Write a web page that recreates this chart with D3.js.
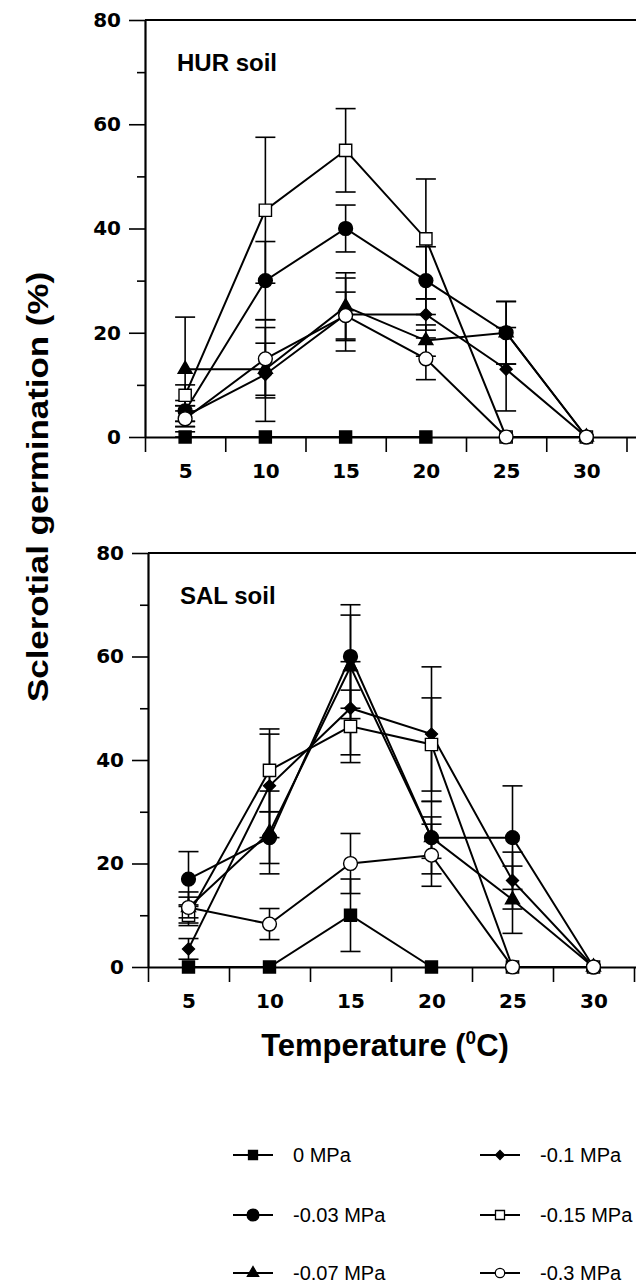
<!DOCTYPE html>
<html>
<head>
<meta charset="utf-8">
<script src="https://cdn.jsdelivr.net/npm/d3@7"></script>
<style>
  body { margin: 0; background: #fff; }
  svg { display: block; font-family: "Liberation Sans", Arial, sans-serif; }
</style>
</head>
<body>
<svg id="chart"></svg>
<script>
// temperatures (x) and water potential treatments (series)
const temps = [5, 10, 15, 20, 25, 30];
const seriesNames = ["0 MPa", "-0.03 MPa", "-0.07 MPa", "-0.1 MPa", "-0.15 MPa", "-0.3 MPa"];
const yTicks = [0, 20, 40, 60, 80];

// HUR soil: germination (%) and error bars
const hur0    = [0, 0, 0, 0, null, null];
const hur003  = [5, 30, 40, 30, 20, 0];
const hur007  = [13, 13, 25, 18.5, 20, 0];
const hur01   = [4, 12, 23.5, 23.5, 13, 0];
const hur015  = [8, 43.5, 55, 38, 0, 0];
const hur03   = [3.5, 15, 23.3, 15, 0, 0];
const hur0Err   = [1, 0, 0, 0, 0, 0];
const hur003Err = [2, 7.5, 4.5, 6.5, 6, 0];
const hur007Err = [10, 5, 6.5, 3, 6, 0];
const hur01Err  = [2, 9, 7, 3, 8, 0];
const hur015Err = [2, 14, 8, 11.5, 0, 0];
const hur03Err  = [1.5, 7.5, 4.5, 4, 0, 0];

// SAL soil
const sal0    = [0, 0, 10, 0, null, null];
const sal003  = [17, 25, 60, 25, 25, 0];
const sal007  = [11.5, 26, 58, 25, 13, 0];
const sal01   = [3.5, 35, 50, 45, 16.7, 0];
const sal015  = [10, 38, 46.5, 43, 0, 0];
const sal03   = [11.5, 8.3, 20, 21.6, 0, 0];
const sal0Err   = [0, 0, 7, 0, 0, 0];
const sal003Err = [5.3, 5, 10, 7, 10, 0];
const sal007Err = [3, 8, 10, 4, 6.5, 0];
const sal01Err  = [2, 10, 9, 13, 5.5, 0];
const sal015Err = [2, 8, 7, 9, 0, 0];
const sal03Err  = [2, 3, 5.8, 6, 0, 0];

const W = 636, H = 1284;
const svg = d3.select("#chart").attr("width", W).attr("height", H);

// marker styles per series
const markers = [
  { type: d3.symbolSquare, size: 144, fill: "#000", rot: 0 },
  { type: d3.symbolCircle, size: 150, fill: "#000", rot: 0 },
  { type: d3.symbolTriangle, size: 85, fill: "#000", rot: 0 },
  { type: d3.symbolSquare, size: 72, fill: "#000", rot: 45 },
  { type: d3.symbolSquare, size: 150, fill: "#fff", rot: 0 },
  { type: d3.symbolCircle, size: 150, fill: "#fff", rot: 0 }
];

function drawPanel(cfg) {
  const x = d3.scaleLinear().domain([2.5, 35]).range([cfg.left, cfg.left + 32.5 * cfg.kx]);
  const y = d3.scaleLinear().domain([0, 80]).range([cfg.bottom, cfg.top]);
  const g = svg.append("g");

  // top frame line
  g.append("line")
    .attr("x1", x(2.5)).attr("x2", x(35))
    .attr("y1", y(80)).attr("y2", y(80))
    .attr("stroke", "#000").attr("stroke-width", 2.2);

  // y axis major + minor
  g.append("g")
    .attr("transform", `translate(${x(2.5)},0)`)
    .call(d3.axisLeft(y).tickValues(yTicks).tickSize(16).tickSizeOuter(0).tickPadding(8));
  g.append("g")
    .attr("transform", `translate(${x(2.5)},0)`)
    .call(d3.axisLeft(y).tickValues([10, 30, 50, 70]).tickSize(8).tickSizeOuter(0).tickFormat(""))
    .select(".domain").remove();

  // x axis ticks between labels
  g.append("g")
    .attr("transform", `translate(0,${y(0)})`)
    .call(d3.axisBottom(x).tickValues([2.5, 7.5, 12.5, 17.5, 22.5, 27.5, 32.5])
      .tickSize(15).tickSizeOuter(0).tickFormat(""));
  const xLab = g.append("g")
    .attr("transform", `translate(0,${y(0)})`)
    .call(d3.axisBottom(x).tickValues(temps).tickSize(0).tickPadding(27));
  xLab.select(".domain").remove();

  g.selectAll(".domain").attr("stroke-width", 2.2);
  g.selectAll(".tick line").attr("stroke-width", 1.6);
  g.selectAll(".tick text")
    .attr("fill", "#000")
    .style("font-family", "'DejaVu Sans', sans-serif")
    .style("font-size", "20px")
    .style("font-weight", 700);

  g.append("text")
    .attr("x", cfg.left + 32).attr("y", y(80) + 51)
    .style("font-size", "24px").style("font-weight", 700)
    .text(cfg.label);

  cfg.series.forEach((vals, i) => {
    const pts = temps.map((t, j) => ({ t, v: vals[j], e: cfg.errs[i][j] }))
      .filter(d => d.v !== null);
    const sg = g.append("g");

    sg.append("path")
      .datum(pts)
      .attr("fill", "none").attr("stroke", "#000").attr("stroke-width", 2)
      .attr("d", d3.line().x(d => x(d.t)).y(d => y(d.v)));

    const eb = sg.selectAll(".eb").data(pts.filter(d => d.e > 0)).join("g")
      .attr("stroke", "#000").attr("stroke-width", 1.6);
    eb.append("line")
      .attr("x1", d => x(d.t)).attr("x2", d => x(d.t))
      .attr("y1", d => y(d.v + d.e)).attr("y2", d => y(Math.max(0, d.v - d.e)));
    eb.append("line")
      .attr("x1", d => x(d.t) - 10).attr("x2", d => x(d.t) + 10)
      .attr("y1", d => y(d.v + d.e)).attr("y2", d => y(d.v + d.e));
    eb.append("line")
      .attr("x1", d => x(d.t) - 10).attr("x2", d => x(d.t) + 10)
      .attr("y1", d => y(Math.max(0, d.v - d.e))).attr("y2", d => y(Math.max(0, d.v - d.e)));

    const m = markers[i];
    sg.selectAll(".mk").data(pts).join("path")
      .attr("d", d3.symbol().type(m.type).size(m.size))
      .attr("transform", d => `translate(${x(d.t)},${y(d.v)}) rotate(${m.rot})`)
      .attr("fill", m.fill).attr("stroke", "#000").attr("stroke-width", 1.4);
  });
}

drawPanel({
  label: "HUR soil", left: 145, kx: 16.05, top: 20, bottom: 437,
  series: [hur0, hur003, hur007, hur01, hur015, hur03],
  errs: [hur0Err, hur003Err, hur007Err, hur01Err, hur015Err, hur03Err]
});
drawPanel({
  label: "SAL soil", left: 148, kx: 16.2, top: 553, bottom: 967,
  series: [sal0, sal003, sal007, sal01, sal015, sal03],
  errs: [sal0Err, sal003Err, sal007Err, sal01Err, sal015Err, sal03Err]
});

// axis titles
svg.append("text")
  .attr("transform", "translate(48,487) rotate(-90)")
  .attr("text-anchor", "middle")
  .attr("textLength", 430).attr("lengthAdjust", "spacingAndGlyphs")
  .style("font-size", "30px").style("font-weight", 700)
  .text("Sclerotial germination (%)");

const xt = svg.append("text")
  .attr("x", 385).attr("y", 1056)
  .attr("text-anchor", "middle")
  .style("font-size", "31px").style("font-weight", 700);
xt.append("tspan").text("Temperature (");
xt.append("tspan").attr("dy", -12).style("font-size", "19px").text("0");
xt.append("tspan").attr("dy", 12).text("C)");

// legend
const legCols = [233, 480], legRows = [1155, 1215, 1273];
const legMarkers = [
  { type: d3.symbolSquare, size: 81, fill: "#000", rot: 0 },
  { type: d3.symbolCircle, size: 110, fill: "#000", rot: 0 },
  { type: d3.symbolTriangle, size: 55, fill: "#000", rot: 0 },
  { type: d3.symbolSquare, size: 40, fill: "#000", rot: 45 },
  { type: d3.symbolSquare, size: 81, fill: "#fff", rot: 0 },
  { type: d3.symbolCircle, size: 70, fill: "#fff", rot: 0 }
];
const leg = svg.append("g").selectAll("g").data(seriesNames).join("g")
  .attr("transform", (d, i) => `translate(${legCols[Math.floor(i / 3)]},${legRows[i % 3]})`);
leg.append("line").attr("x1", 0).attr("x2", 40).attr("stroke", "#000").attr("stroke-width", 2);
leg.append("path")
  .attr("d", (d, i) => d3.symbol().type(legMarkers[i].type).size(legMarkers[i].size)())
  .attr("transform", (d, i) => `translate(20,0) rotate(${legMarkers[i].rot})`)
  .attr("fill", (d, i) => legMarkers[i].fill).attr("stroke", "#000").attr("stroke-width", 1.3);
leg.append("text")
  .attr("x", 60).attr("dy", "0.35em")
  .style("font-size", "20px")
  .text(d => d);
</script>
</body>
</html>
